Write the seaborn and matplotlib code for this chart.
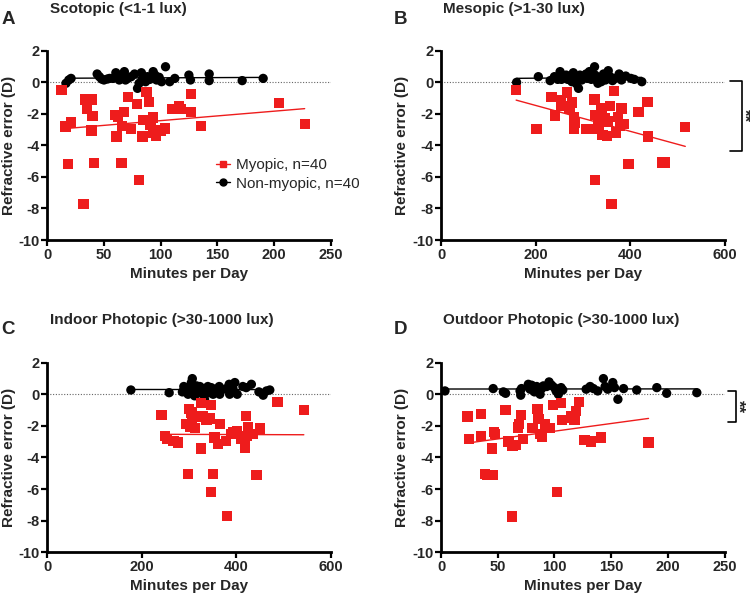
import numpy as np
import pandas as pd
import seaborn as sns
import matplotlib.pyplot as plt
from matplotlib.lines import Line2D

# Panel A - Scotopic (<1-1 lux), minutes per day vs refractive error
a_myo_x = [12.6, 16, 18.5, 21, 33, 32, 35, 35, 39, 40, 39, 41, 60, 61, 62.5, 65.5, 66, 67.5, 71, 74,
           79, 81, 84, 85, 87.5, 89.5, 91, 93, 93, 96, 100, 103.7, 110, 116, 117.5, 126.6, 127, 135.4, 204.5, 227]
a_myo_y = [-0.49, -2.8, -5.2, -2.55, -1.08, -7.7, -1.08, -1.65, -1.08, -2.13, -3.06, -5.1, -2.07, -3.44, -2.18,
           -5.13, -2.77, -1.9, -0.95, -2.98, -1.37, -6.19, -3.44, -2.39, -0.59, -1.23, -2.7, -2.22, -3.19, -3.4,
           -3.06, -2.92, -1.71, -1.5, -1.71, -0.74, -1.9, -2.77, -1.29, -2.66]
a_non_x = [16.5, 19, 21, 44, 46, 48, 50, 53, 55, 58, 60.5, 61.7, 63.5, 65.5, 68, 69, 71, 74, 77, 79.6,
           81, 83, 84, 86.7, 88.4, 90.5, 93.4, 95, 96.4, 98.7, 100.8, 104.3, 108, 112.5, 124.9, 126.3, 142.8,
           142.8, 171.9, 190.4]
a_non_y = [-0.06, 0.15, 0.25, 0.53, 0.36, 0.21, 0.15, 0.21, 0.25, 0.25, 0.61, 0.36, 0.15, 0.32, 0.68, 0.15,
           0.25, 0.36, 0.53, -0.38, -0.06, 0.61, 0.25, 0.04, 0.36, 0.19, 0.68, 0.46, 0.15, 0.32, 0.04, 0.99,
           0.04, 0.25, 0.46, 0.15, 0.53, 0.11, 0.11, 0.25]

# Panel B - Mesopic (>1-30 lux)
b_myo_x = [159, 202, 234, 241, 254, 255, 267, 272, 277, 282, 284, 282, 307, 318, 325, 326, 326, 332, 335, 338,
           340, 342, 346, 351, 354, 358, 361, 366, 370, 375, 379, 382, 386, 397, 418, 437, 438, 467, 473, 517]
b_myo_y = [-0.49, -2.96, -0.95, -2.11, -1.12, -1.5, -0.65, -1.65, -1.27, -2.22, -2.6, -2.92, -2.96, -2.96,
           -1.08, -2.07, -6.19, -2.7, -2.92, -1.96, -1.65, -3.34, -2.28, -3.4, -2.49, -1.48, -7.71, -0.55,
           -3.19, -2.18, -2.77, -1.65, -2.64, -5.18, -1.86, -1.23, -3.44, -5.09, -5.09, -2.85]
b_non_x = [160, 206, 231, 240, 247, 252, 255, 265, 268, 273, 277, 280, 284, 287, 291, 294, 298, 301, 307, 310,
           314, 318, 325, 326, 329, 332, 334, 339, 344, 348, 354, 358, 363, 368, 377, 382, 391, 402, 409, 425]
b_non_y = [0, 0.36, 0.11, 0.36, 0.19, 0.68, 0.19, 0.46, 0.19, 0.36, 0.04, 0.61, 0.32, -0.1, -0.38, 0.46, 0.15,
           0.36, 0.53, 0.25, 0.68, 0.19, 0.99, 0.46, 0.15, -0.06, 0.32, 0.04, 0.53, 0.15, 0.74, 0.36, 0.11,
           0.25, 0.53, 0.15, 0.4, 0.25, 0.19, 0.04]

# Panel C - Indoor photopic (>30-1000 lux)
c_myo_x = [242, 249, 254, 267, 276, 295, 298, 300, 303, 305, 307, 312, 316, 325, 326, 330, 337, 344, 347, 347,
           351, 354, 362, 365, 379, 381, 390, 393, 402, 411, 418, 418, 420, 423, 425, 436, 443, 450, 487, 543]
c_myo_y = [-1.31, -2.64, -2.85, -2.95, -3.06, -1.9, -5.06, -0.95, -2.07, -1.16, -1.58, -2.15, -1.41, -0.57,
           -3.44, -1.37, -1.62, -1.54, -0.7, -6.18, -5.06, -2.74, -3.16, -1.9, -2.95, -7.71, -2.53, -2.42,
           -2.32, -2.8, -2.95, -3.38, -1.37, -2.64, -2.05, -2.53, -5.12, -2.17, -0.49, -1.01]
c_non_x = [177, 258, 286, 289, 294, 298, 302, 305, 307, 310, 312, 316, 319, 323, 326, 330, 333, 337, 340, 342,
           347, 351, 354, 364, 365, 369, 379, 385, 386, 390, 393, 397, 402, 414, 421, 432, 448, 457, 464, 471]
c_non_y = [0.27, 0.1, 0.15, 0.49, 0.27, 0, 0.42, 0.74, 0.99, 0.27, -0.1, 0.53, 0.21, 0.49, 0.06, 0.36, -0.32,
           0.32, 0.49, 0.1, 0.42, 0, 0.32, 0.49, 0, 0.27, 0.36, 0.63, 0, 0.42, 0.36, 0.74, 0, 0.49, 0.42,
           0.63, 0.15, -0.06, 0.21, 0.27]

# Panel D - Outdoor photopic (>30-1000 lux)
d_myo_x = [23.5, 24.7, 35, 35, 39, 41, 44.7, 45.3, 47, 47.5, 57, 59.4, 62.4, 63, 65.9, 67.6, 68.2, 68.8, 70.3,
           72.6, 80.6, 85, 85.9, 87.4, 88.8, 91.8, 96, 98.5, 102, 105.9, 106.5, 114.4, 115, 117.6, 119, 122,
           126.5, 132.4, 141, 183]
d_myo_y = [-1.41, -2.85, -1.27, -2.64, -5.06, -5.12, -3.44, -5.12, -2.38, -2.5, -1.01, -2.99, -7.74, -3.27,
           -3.2, -2.05, -2.11, -1.9, -1.33, -2.85, -2.15, -0.95, -1.58, -2.53, -2.7, -1.9, -2.15, -0.7, -6.18,
           -0.57, -1.62, -1.37, -1.52, -1.62, -1.05, -0.49, -2.89, -2.99, -2.74, -3.06]
d_non_x = [3.5, 46, 55, 57, 69.7, 70.3, 71, 77, 78.5, 80, 81.5, 82.4, 84.4, 85.9, 87.4, 88.8, 90.3, 93.2,
           95.3, 97.6, 100, 101.5, 103.5, 105.9, 107.4, 128, 131.5, 134.4, 138.2, 143.2, 144.7, 147, 151.5,
           153, 156, 161, 172.6, 190.3, 199, 225.6]
d_non_y = [0.21, 0.36, 0.15, 0.06, 0.21, -0.06, 0.36, 0.63, 0.32, 0.57, 0.42, 0.15, 0.49, 0.27, 0, 0.36,
           0.53, 0.49, 0.78, 0.57, 0.42, 0.21, 0, 0.42, 0.27, 0.32, 0.49, 0.36, 0.21, 0.99, 0.49, 0.32, 0.74,
           0.42, -0.32, 0.36, 0.27, 0.42, 0.06, 0.1]

titles = ["Scotopic (<1-1 lux)", "Mesopic (>1-30 lux)",
          "Indoor Photopic (>30-1000 lux)", "Outdoor Photopic (>30-1000 lux)"]
letters = ["A", "B", "C", "D"]
xmaxes = [250, 600, 600, 250]
xsteps = [50, 200, 200, 50]

sns.set_style("ticks")
plt.rcParams['font.family'] = ['Liberation Sans', 'DejaVu Sans']
plt.rcParams['axes.unicode_minus'] = False

RED = "#ee1c1c"
fig = plt.figure(figsize=(7.5, 5.95), dpi=100)
positions = [[0.063, 0.5966, 0.378, 0.318], [0.588, 0.5966, 0.378, 0.318],
             [0.063, 0.0718, 0.378, 0.3187], [0.588, 0.0718, 0.378, 0.3187]]

panels = [(a_myo_x, a_myo_y, a_non_x, a_non_y), (b_myo_x, b_myo_y, b_non_x, b_non_y),
          (c_myo_x, c_myo_y, c_non_x, c_non_y), (d_myo_x, d_myo_y, d_non_x, d_non_y)]

for i, (mx, my, nx, ny) in enumerate(panels):
    ax = fig.add_axes(positions[i])
    myo = pd.DataFrame({"minutes": mx, "refr": my})
    non = pd.DataFrame({"minutes": nx, "refr": ny})

    ax.axhline(0, color="#666666", lw=0.8, ls=(0, (1, 1.5)), zorder=1)
    sns.scatterplot(data=non, x="minutes", y="refr", ax=ax, marker="o", s=45,
                    color="black", edgecolor="none", zorder=3)
    sns.scatterplot(data=myo, x="minutes", y="refr", ax=ax, marker="s", s=55,
                    color=RED, edgecolor="none", zorder=3)
    sns.regplot(data=non, x="minutes", y="refr", ax=ax, scatter=False, ci=None,
                line_kws={"color": "black", "lw": 1.0, "zorder": 2})
    sns.regplot(data=myo, x="minutes", y="refr", ax=ax, scatter=False, ci=None,
                line_kws={"color": RED, "lw": 1.0, "zorder": 4})

    ax.set_xlim(0, xmaxes[i])
    ax.set_ylim(-10, 2)
    ax.set_xticks(np.arange(0, xmaxes[i] + 1, xsteps[i]))
    ax.set_yticks(np.arange(-10, 3, 2))
    ax.set_xlabel("Minutes per Day", fontsize=11, fontweight="bold", labelpad=4)
    ax.set_ylabel("Refractive error (D)", fontsize=11, fontweight="bold", labelpad=2)
    for lab in ax.get_xticklabels() + ax.get_yticklabels():
        lab.set_fontweight("bold")
    ax.tick_params(labelsize=10.5, width=1.6, length=4, color="black", pad=1.5)
    sns.despine(ax=ax)
    for sp in ["left", "bottom"]:
        ax.spines[sp].set_linewidth(2.0)
        ax.spines[sp].set_color("black")

    # title and panel letter
    bb = positions[i]
    ttl_y = 0.996 if i < 2 else 0.474
    fig.text(bb[0] + 0.003, ttl_y, titles[i],
             fontsize=11, fontweight="bold", va="top", ha="left")
    fig.text(0.002 if i % 2 == 0 else 0.525, ttl_y - 0.014, letters[i],
             fontsize=13.5, fontweight="bold", va="top", ha="left")

    if i == 0:
        handles = [Line2D([], [], color=RED, marker="s", markersize=5, lw=1.0),
                   Line2D([], [], color="black", marker="o", markersize=5, lw=1.0)]
        ax.legend(handles, ["Myopic, n=40", "Non-myopic, n=40"], loc="upper left",
                  bbox_to_anchor=(0.575, 0.465), frameon=False, fontsize=11,
                  handlelength=0.9, handletextpad=0.4, labelspacing=0.3, borderaxespad=0)

    # significance brackets
    if i in (1, 3):
        tr = ax.get_yaxis_transform()
        if i == 1:
            xv, xl, xs, top, bot = 1.06, 1.018, 1.066, 0.1, -4.35
        else:
            xv, xl, xs, top, bot = 1.039, 1.014, 1.047, 0.2, -1.75
        ax.plot([xl, xv, xv, xl], [top, top, bot, bot], transform=tr, color="black",
                lw=1.2, clip_on=False)
        ax.text(xs, (top + bot) / 2, "**", transform=tr, rotation=270, ha="center",
                va="center", fontsize=12, fontweight="bold", clip_on=False)

fig.savefig("out.png", dpi=100)
